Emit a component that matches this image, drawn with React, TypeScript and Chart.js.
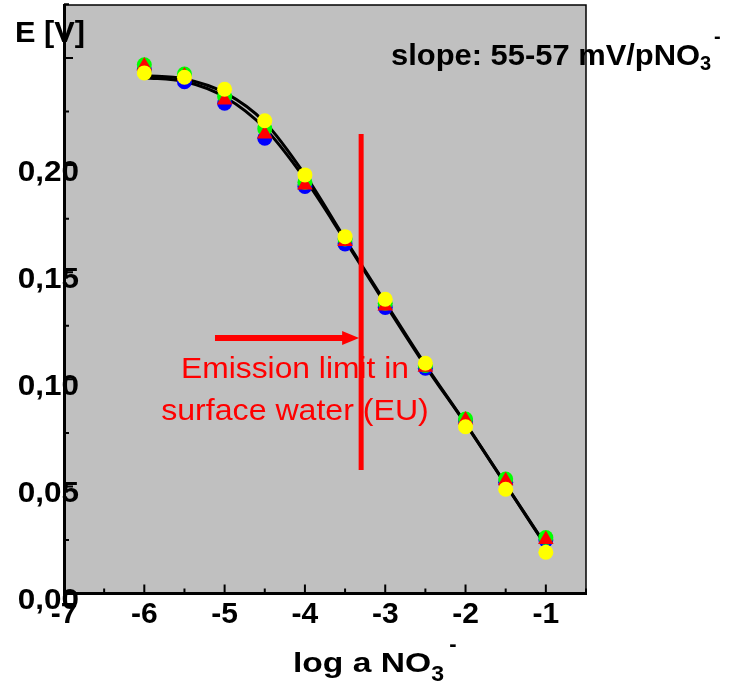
import React, { useEffect, useRef } from 'react';
import { Chart, registerables } from 'chart.js';

Chart.register(...registerables);

// ---- data ----
const LOG_A = [-6, -5.5, -5, -4.5, -4, -3.5, -3, -2.5, -2, -1.5, -1];
const E_BLUE = [0.2445, 0.2389, 0.2289, 0.2125, 0.19, 0.1632, 0.1335, 0.1052, 0.0805, 0.052, 0.025];
const E_GREEN = [0.2468, 0.2425, 0.232, 0.217, 0.192, 0.1655, 0.1355, 0.1065, 0.0815, 0.0535, 0.0262];
const E_RED = [0.2462, 0.2416, 0.2304, 0.2145, 0.1907, 0.1643, 0.1342, 0.1056, 0.081, 0.0527, 0.0253];
const E_YELLOW = [0.243, 0.241, 0.2354, 0.2207, 0.1954, 0.1666, 0.1374, 0.1075, 0.0779, 0.0487, 0.0193];
const FIT_UPPER = [0.2418, 0.2402, 0.2338, 0.22, 0.1955, 0.1655, 0.136, 0.1068, 0.0795, 0.051, 0.0225];
const FIT_LOWER = [0.2408, 0.239, 0.2318, 0.2172, 0.1935, 0.1648, 0.1352, 0.1062, 0.0792, 0.0508, 0.0222];

const X_MAJOR = [-7, -6, -5, -4, -3, -2, -1];
const X_MINOR = [-6.5, -5.5, -4.5, -3.5, -2.5, -1.5, -0.5];
const Y_MAJOR = [0, 0.05, 0.1, 0.15, 0.2, 0.25];
const Y_LABELLED = [0, 0.05, 0.1, 0.15, 0.2];
const Y_MINOR = [0.025, 0.075, 0.125, 0.175, 0.225, 0.275];

const LIMIT_LOG_A = -3.3;
const LIMIT_E = [0.0577, 0.2145];
const ARROW_E = 0.1193;
const ARROW_FROM = -5.12;

const FAMILY = "'Liberation Sans', Arial, Helvetica, sans-serif";

function pts(ys: number[]) {
  return LOG_A.map((x, i) => ({ x, y: ys[i] }));
}

function sText(ctx: CanvasRenderingContext2D, text: string, x: number, y: number, font: string, sx: number, align: CanvasTextAlign = 'left', color = '#000', baseline: CanvasTextBaseline = 'alphabetic') {
  ctx.save();
  ctx.font = font;
  ctx.fillStyle = color;
  ctx.textAlign = align;
  ctx.textBaseline = baseline;
  ctx.translate(x, y);
  ctx.scale(sx, 1);
  ctx.fillText(text, 0, 0);
  const w = ctx.measureText(text).width * sx;
  ctx.restore();
  return w;
}

const decor = {
  id: 'decor',
  beforeDraw(chart: any) {
    const { ctx, chartArea: a } = chart;
    ctx.save();
    ctx.fillStyle = '#c0c0c0';
    ctx.fillRect(a.left, a.top, a.right - a.left, a.bottom - a.top);
    ctx.restore();
  },
  afterDatasetsDraw(chart: any) {
    const { ctx } = chart;
    const xs = chart.scales.x;
    const ys = chart.scales.y;
    const lx = xs.getPixelForValue(LIMIT_LOG_A);
    ctx.save();
    ctx.strokeStyle = '#ff0000';
    ctx.fillStyle = '#ff0000';
    ctx.lineWidth = 5;
    ctx.beginPath();
    ctx.moveTo(lx, ys.getPixelForValue(LIMIT_E[1]));
    ctx.lineTo(lx, ys.getPixelForValue(LIMIT_E[0]));
    ctx.stroke();
    const ay = ys.getPixelForValue(ARROW_E);
    const ax0 = xs.getPixelForValue(ARROW_FROM);
    const tip = lx - 2;
    ctx.lineWidth = 6;
    ctx.beginPath();
    ctx.moveTo(ax0, ay);
    ctx.lineTo(tip - 14, ay);
    ctx.stroke();
    ctx.beginPath();
    ctx.moveTo(tip - 17, ay - 7);
    ctx.lineTo(tip, ay);
    ctx.lineTo(tip - 17, ay + 7);
    ctx.closePath();
    ctx.fill();
    ctx.restore();
    const f = `normal 30px ${FAMILY}`;
    sText(ctx, 'Emission limit in', 295, 378, f, 1.06, 'center', '#ff0000');
    sText(ctx, 'surface water (EU)', 295, 420, f, 1.07, 'center', '#ff0000');
  },
  afterDraw(chart: any) {
    const { ctx, chartArea: a } = chart;
    const xs = chart.scales.x;
    const ys = chart.scales.y;
    ctx.save();
    ctx.strokeStyle = '#000';
    ctx.lineWidth = 1.5;
    ctx.beginPath();
    ctx.moveTo(a.left, a.top);
    ctx.lineTo(a.right, a.top);
    ctx.lineTo(a.right, a.bottom);
    ctx.stroke();
    ctx.lineWidth = 2;
    ctx.beginPath();
    X_MAJOR.forEach((v) => { const p = xs.getPixelForValue(v); ctx.moveTo(p, a.bottom); ctx.lineTo(p, a.bottom - 9); });
    X_MINOR.forEach((v) => { const p = xs.getPixelForValue(v); ctx.moveTo(p, a.bottom); ctx.lineTo(p, a.bottom - 5); });
    Y_MAJOR.forEach((v) => { const p = ys.getPixelForValue(v); ctx.moveTo(a.left, p); ctx.lineTo(a.left + 9, p); });
    Y_MINOR.forEach((v) => { const p = ys.getPixelForValue(v); ctx.moveTo(a.left, p); ctx.lineTo(a.left + 5, p); });
    ctx.stroke();
    ctx.restore();

    // y tick labels (positioned through the y scale)
    Y_LABELLED.forEach((v) => {
      const p = ys.getPixelForValue(v);
      sText(ctx, v.toFixed(2).replace('.', ','), a.left + 15, p + 7.5, `bold 30px ${FAMILY}`, 1.05, 'right', '#000', 'middle');
    });

    sText(ctx, 'E [V]', 15, 42, `bold 29px ${FAMILY}`, 1.06);

    let w = sText(ctx, 'slope: 55-57 mV/pNO', 391, 65, `bold 30px ${FAMILY}`, 1.03);
    sText(ctx, '3', 391 + w, 70, `bold 20px ${FAMILY}`, 1.0);
    sText(ctx, '-', 391 + w + 14, 43, `bold 20px ${FAMILY}`, 1.0);

    w = sText(ctx, 'log a NO', 293, 672, `bold 28px ${FAMILY}`, 1.2);
    sText(ctx, '3', 293 + w, 681, `bold 22px ${FAMILY}`, 1.05);
    sText(ctx, '-', 293 + w + 18, 651, `bold 22px ${FAMILY}`, 1.0);
  },
};

export default function App() {
  const ref = useRef<HTMLCanvasElement | null>(null);
  useEffect(() => {
    if (!ref.current) return;
    const marker = (label: string, data: number[], color: string, style: string, r: number, order: number) => ({
      label,
      data: pts(data),
      showLine: false,
      pointStyle: style,
      pointRadius: r,
      pointBackgroundColor: color,
      pointBorderColor: color,
      pointBorderWidth: 0,
      backgroundColor: color,
      borderColor: color,
      order,
    });
    const fit = (label: string, data: number[]) => ({
      label,
      data: pts(data),
      showLine: true,
      pointRadius: 0,
      borderColor: '#000',
      borderWidth: 3,
      cubicInterpolationMode: 'monotone',
      fill: false,
      order: 10,
    });
    const chart = new Chart(ref.current, {
      type: 'scatter',
      data: {
        datasets: [
          fit('fit 1', FIT_UPPER),
          fit('fit 2', FIT_LOWER),
          marker('electrode 1', E_BLUE, '#0000ff', 'circle', 7.5, 4),
          marker('electrode 2', E_GREEN, '#00ff00', 'circle', 7.5, 3),
          marker('electrode 3', E_RED, '#ff0000', 'triangle', 9, 2),
          marker('electrode 4', E_YELLOW, '#ffff00', 'circle', 7.5, 1),
        ] as any,
      },
      options: {
        animation: false,
        responsive: false,
        devicePixelRatio: 1,
        layout: { autoPadding: false, padding: { left: 0, top: 5, right: 156, bottom: 0 } },
        plugins: { legend: { display: false }, tooltip: { enabled: false }, title: { display: false } },
        scales: {
          x: {
            type: 'linear',
            min: -7,
            max: -0.5,
            afterFit: (s: any) => { s.height = 90.4; },
            grid: { display: true, drawOnChartArea: false, drawTicks: false },
            border: { display: true, width: 3, color: '#000' },
            ticks: {
              stepSize: 1,
              includeBounds: false,
              padding: 3,
              color: '#000',
              font: { family: FAMILY, weight: 'bold', size: 30 },
              callback: (v: any) => (X_MAJOR.includes(Number(v)) ? String(v) : ''),
              maxRotation: 0,
              autoSkip: false,
            },
          },
          y: {
            type: 'linear',
            min: 0,
            max: 0.2747,
            afterFit: (s: any) => { s.width = 64; },
            grid: { display: true, drawOnChartArea: false, drawTicks: false },
            border: { display: true, width: 3, color: '#000' },
            ticks: { display: false, stepSize: 0.05 },
          },
        },
      } as any,
      plugins: [decor],
    });
    return () => chart.destroy();
  }, []);
  return (
    <div style={{ position: 'fixed', left: 0, top: 0, width: 742, height: 684, background: '#fff' }}>
      <canvas ref={ref} width={742} height={684} style={{ width: 742, height: 684, display: 'block' }} />
    </div>
  );
}
